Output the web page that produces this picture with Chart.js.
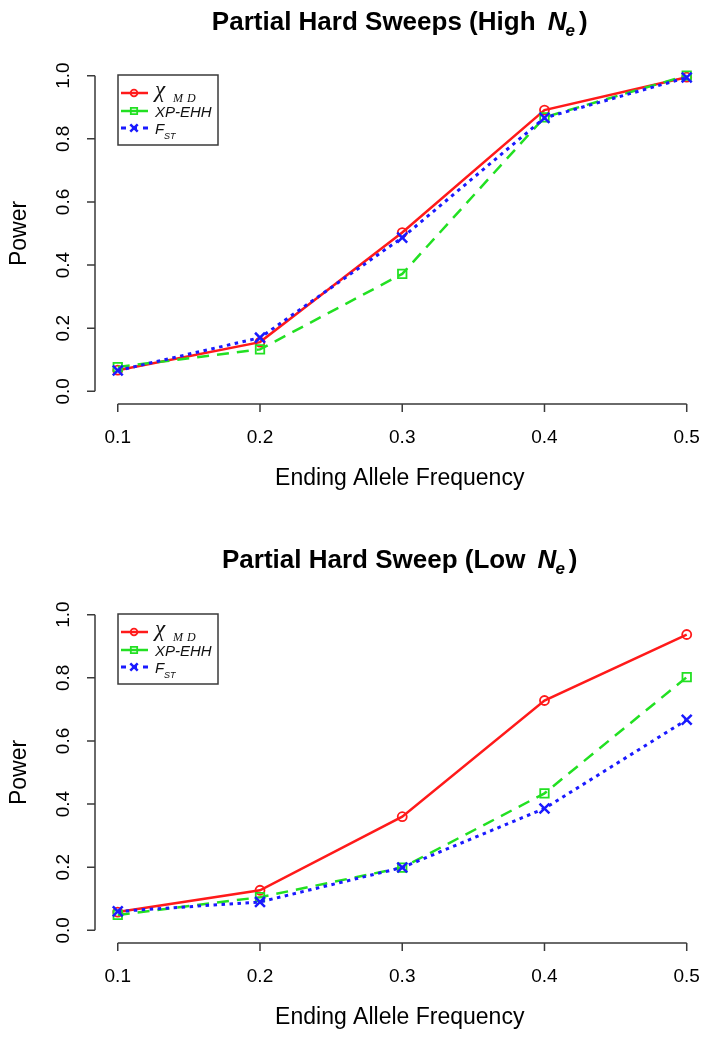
<!DOCTYPE html>
<html>
<head>
<meta charset="utf-8">
<title>Partial Hard Sweeps</title>
<script src="https://cdn.jsdelivr.net/npm/chart.js@4.4.1/dist/chart.umd.min.js"></script>
<style>
  body { margin: 0; background: #fff; }
  .panel { position: absolute; left: 0; width: 714px; }
</style>
</head>
<body>
<div class="panel" style="top:0;height:539px"><canvas id="chartHigh" width="714" height="539"></canvas></div>
<div class="panel" style="top:539px;height:501px"><canvas id="chartLow" width="714" height="501"></canvas></div>

<script>
// ---- datos ----
const FREQS = [0.1, 0.2, 0.3, 0.4, 0.5];
const X_TICKS = [0.1, 0.2, 0.3, 0.4, 0.5];
const X_TICK_LABELS = ['0.1', '0.2', '0.3', '0.4', '0.5'];
const Y_TICKS = [0.0, 0.2, 0.4, 0.6, 0.8, 1.0];
const Y_TICK_LABELS = ['0.0', '0.2', '0.4', '0.6', '0.8', '1.0'];

const HIGH_CHI   = [0.067, 0.156, 0.503, 0.891, 0.995];
const HIGH_XPEHH = [0.077, 0.133, 0.372, 0.868, 1.000];
const HIGH_FST   = [0.066, 0.170, 0.487, 0.866, 0.994];

const LOW_CHI    = [0.058, 0.127, 0.360, 0.728, 0.937];
const LOW_XPEHH  = [0.049, 0.105, 0.199, 0.434, 0.802];
const LOW_FST    = [0.060, 0.090, 0.199, 0.386, 0.667];

const TITLE_HIGH = 'Partial Hard Sweeps (High ';
const TITLE_LOW  = 'Partial Hard Sweep (Low ';
const X_TITLE = 'Ending Allele Frequency';
const Y_TITLE = 'Power';

const SANS  = '"Liberation Sans", Arial, sans-serif';
const SERIF = '"Liberation Serif", "Times New Roman", serif';

const RED = '#ff1a1a', GREEN = '#22e022', BLUE = '#1a1aff', AXIS = '#3a3a3a';

// ---- dibujo estilo R (ejes, títulos, leyenda) ----
const rStylePlugin = {
    id: 'rStyle',
    afterDatasetsDraw(chart, args, opts) {
        const ctx = chart.ctx;
        const xs = chart.scales.x, ys = chart.scales.y;
        const area = chart.chartArea;
        const tick = 8;

        ctx.save();
        ctx.strokeStyle = AXIS;
        ctx.lineWidth = 1.5;
        ctx.setLineDash([]);

        // eje y
        ctx.beginPath();
        ctx.moveTo(area.left, ys.getPixelForValue(Y_TICKS[0]));
        ctx.lineTo(area.left, ys.getPixelForValue(Y_TICKS[Y_TICKS.length - 1]));
        Y_TICKS.forEach(v => {
            const py = ys.getPixelForValue(v);
            ctx.moveTo(area.left - tick, py);
            ctx.lineTo(area.left, py);
        });
        ctx.stroke();

        // eje x
        ctx.beginPath();
        ctx.moveTo(xs.getPixelForValue(X_TICKS[0]), area.bottom);
        ctx.lineTo(xs.getPixelForValue(X_TICKS[X_TICKS.length - 1]), area.bottom);
        X_TICKS.forEach(v => {
            const px = xs.getPixelForValue(v);
            ctx.moveTo(px, area.bottom);
            ctx.lineTo(px, area.bottom + tick);
        });
        ctx.stroke();

        ctx.fillStyle = '#000';
        ctx.font = `19px ${SANS}`;
        ctx.textAlign = 'center';
        ctx.textBaseline = 'middle';
        X_TICKS.forEach((v, i) => {
            ctx.fillText(X_TICK_LABELS[i], xs.getPixelForValue(v), 438);
        });

        Y_TICKS.forEach((v, i) => {
            ctx.save();
            ctx.translate(69, ys.getPixelForValue(v));
            ctx.rotate(-Math.PI / 2);
            ctx.textBaseline = 'alphabetic';
            ctx.fillText(Y_TICK_LABELS[i], 0, 0);
            ctx.restore();
        });

        // títulos de ejes
        ctx.font = `23px ${SANS}`;
        ctx.textBaseline = 'middle';
        ctx.fillText(X_TITLE, (area.left + area.right) / 2, 479);
        ctx.save();
        ctx.translate(26, (ys.getPixelForValue(0) + ys.getPixelForValue(1)) / 2);
        ctx.rotate(-Math.PI / 2);
        ctx.textBaseline = 'alphabetic';
        ctx.fillText(Y_TITLE, 0, 0);
        ctx.restore();

        _dibujarTitulo(ctx, opts.title, (area.left + area.right) / 2, opts.titleBaseline);
        _dibujarLeyenda(ctx, chart);
        ctx.restore();
    }
};

function _dibujarTitulo(ctx, texto, cx, baseline) {
    const fMain = `bold 26px ${SANS}`;
    const fN = `bold italic 26px ${SANS}`;
    const fSub = `bold italic 17px ${SANS}`;
    ctx.font = fMain; const w1 = ctx.measureText(texto).width;
    ctx.font = fN;    const w2 = ctx.measureText('N').width;
    ctx.font = fSub;  const w3 = ctx.measureText('e').width;
    ctx.font = fMain; const w4 = ctx.measureText(')').width;
    const gap = 5;
    let x = cx - (w1 + gap + w2 + w3 + 3 + w4) / 2;
    ctx.textAlign = 'left';
    ctx.textBaseline = 'alphabetic';
    ctx.fillStyle = '#000';
    ctx.font = fMain; ctx.fillText(texto, x, baseline); x += w1 + gap;
    ctx.font = fN;    ctx.fillText('N', x, baseline);   x += w2 - 1;
    ctx.font = fSub;  ctx.fillText('e', x, baseline + 6); x += w3 + 4;
    ctx.font = fMain; ctx.fillText(')', x, baseline);
}

function _dibujarLeyenda(ctx, chart) {
    const box = { x: 118, y: 75, w: 100, h: 70 };
    ctx.save();
    ctx.strokeStyle = AXIS;
    ctx.lineWidth = 1.5;
    ctx.setLineDash([]);
    ctx.strokeRect(box.x, box.y, box.w, box.h);

    const filas = [93, 111, 128];
    const drawPoint = Chart.helpers && Chart.helpers.drawPoint;
    chart.data.datasets.forEach((ds, i) => {
        const y = filas[i];
        ctx.strokeStyle = ds.borderColor;
        ctx.lineWidth = ds.borderWidth;
        ctx.setLineDash(ds.legendDash || []);
        ctx.beginPath();
        ctx.moveTo(121, y);
        ctx.lineTo(148, y);
        ctx.stroke();

        ctx.setLineDash([]);
        ctx.fillStyle = 'rgba(0,0,0,0)';
        ctx.lineWidth = ds.pointBorderWidth;
        if (drawPoint) {
            drawPoint(ctx, {
                pointStyle: ds.pointStyle,
                rotation: 0,
                radius: ds.pointRadius * 0.75,
                borderWidth: ds.pointBorderWidth
            }, 134, y);
        }
        _dibujarEtiqueta(ctx, i, 155, y);
    });
    ctx.restore();
}

function _dibujarEtiqueta(ctx, i, x, y) {
    ctx.fillStyle = '#111';
    ctx.textAlign = 'left';
    ctx.textBaseline = 'alphabetic';
    if (i === 0) {
        ctx.font = `italic 23px ${SERIF}`;
        ctx.fillText('χ', x, y + 4);
        ctx.font = `italic 12px ${SERIF}`;
        ctx.fillText('M', x + 18, y + 9);
        ctx.fillText('D', x + 32, y + 9);
    } else if (i === 1) {
        ctx.font = `italic 15px ${SANS}`;
        ctx.fillText('XP-EHH', x, y + 6);
    } else {
        ctx.font = `italic 15px ${SANS}`;
        ctx.fillText('F', x, y + 6);
        ctx.font = `italic 9px ${SANS}`;
        ctx.fillText('ST', x + 9, y + 11);
    }
}

function _series(chi, xpehh, fst) {
    return [
        {
            label: 'χMD', data: chi,
            borderColor: RED, borderWidth: 2.5, borderDash: [],
            pointStyle: 'circle', pointRadius: 4.5, pointBorderWidth: 1.8,
            pointBackgroundColor: 'rgba(0,0,0,0)', pointBorderColor: RED,
            order: 3
        },
        {
            label: 'XP-EHH', data: xpehh,
            borderColor: GREEN, borderWidth: 2.5, borderDash: [12, 8], legendDash: [],
            pointStyle: 'rect', pointRadius: 6, pointBorderWidth: 1.8,
            pointBackgroundColor: 'rgba(0,0,0,0)', pointBorderColor: GREEN,
            order: 2
        },
        {
            label: 'FST', data: fst,
            borderColor: BLUE, borderWidth: 3, borderDash: [3.5, 4.5], legendDash: [5, 6],
            pointStyle: 'crossRot', pointRadius: 7, pointBorderWidth: 2.5,
            pointBackgroundColor: 'rgba(0,0,0,0)', pointBorderColor: BLUE,
            order: 1
        }
    ];
}

function _crearGrafico(id, titulo, titleBaseline, alto, datasets) {
    const ctx = document.getElementById(id);
    return new Chart(ctx, {
        type: 'line',
        data: { labels: FREQS, datasets },
        options: {
            responsive: false,
            animation: false,
            layout: { padding: { left: 95, right: 0, top: 63, bottom: alto - 404 } },
            datasets: { line: { tension: 0, fill: false, clip: false } },
            scales: {
                x: { type: 'linear', min: 0.084, max: 0.5125, display: false },
                y: { type: 'linear', min: -0.04, max: 1.04, display: false }
            },
            plugins: {
                legend: { display: false },
                tooltip: { enabled: false },
                rStyle: { title: titulo, titleBaseline }
            }
        },
        plugins: [rStylePlugin]
    });
}

document.addEventListener('DOMContentLoaded', () => {
    const toXY = arr => arr.map((v, i) => ({ x: FREQS[i], y: v }));
    _crearGrafico('chartHigh', TITLE_HIGH, 30, 539,
        _series(toXY(HIGH_CHI), toXY(HIGH_XPEHH), toXY(HIGH_FST)));
    _crearGrafico('chartLow', TITLE_LOW, 29, 501,
        _series(toXY(LOW_CHI), toXY(LOW_XPEHH), toXY(LOW_FST)));
});
</script>
</body>
</html>
